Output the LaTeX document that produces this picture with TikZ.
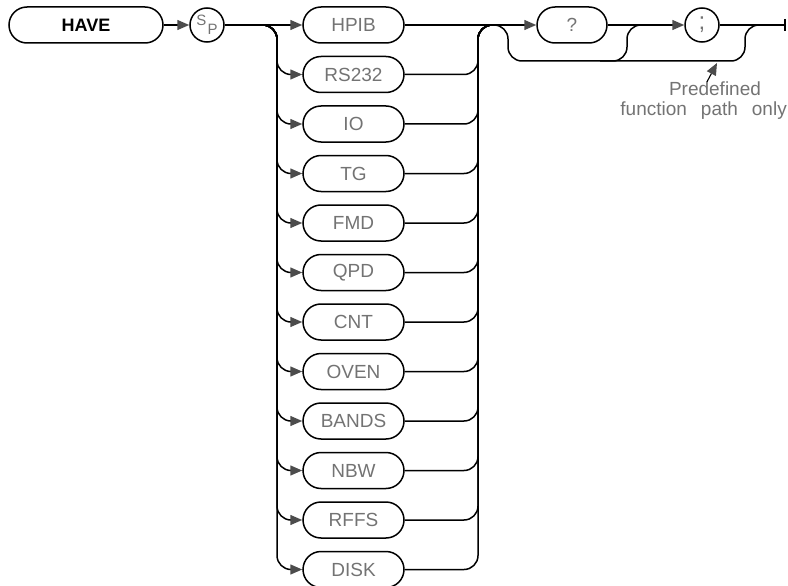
\documentclass[tikz,border=0pt]{standalone}
\usepackage{fontspec}
\setmainfont{Liberation Sans}
\usetikzlibrary{arrows.meta}

\begin{document}
\begin{tikzpicture}[
        x=1pt, y=-1pt,
        every node/.style={font=\fontsize{19}{19}\selectfont, text=black!55},
        linie/.style={draw=black, line width=1.5pt},
        kante/.style={linie, -{Triangle[length=12pt, width=10pt, color=black!70]}},
        befehl/.style={linie, rounded corners=18pt, minimum width=154pt,
                       minimum height=36pt, inner sep=0pt},
        wahl/.style={befehl, minimum width=101pt},
        kreis/.style={linie, circle, minimum size=34pt, inner sep=0pt},
        notiz/.style={inner sep=0pt}
    ]
        \useasboundingbox (0,0) rectangle (788,586);

        \node[befehl, text=black, font=\fontsize{18}{18}\selectfont\bfseries]
            (have) at (86,25) {HAVE};
        \node[kreis, font=\fontsize{15}{15}\selectfont] (sp) at (207,25)
            {\raisebox{4pt}{S}\kern1pt\raisebox{-5pt}{P}};
        \draw[kante] (have) -- (sp);

        % Geraetetypen
        \foreach \name [count=\i] in {HPIB,RS232,IO,TG,FMD,QPD,CNT,OVEN,BANDS,NBW,RFFS,DISK}
            \node[wahl] (o\i) at (353.5,{25+49.5*(\i-1)}) {\name};

        \coordinate (abzweig)   at (262,25);
        \coordinate (linksbus)  at (277,25);
        \coordinate (rechtsbus) at (478,25);
        \coordinate (zusammen)  at (492,25);

        \draw[kante] (sp) -- (o1);
        \foreach \i in {2,...,12}
            \draw[kante, rounded corners=14pt] (abzweig) -- (linksbus) |- (o\i.west);
        \foreach \i in {2,...,12}
            \draw[linie, rounded corners=14pt] (o\i.east) -| (rechtsbus) -- (zusammen);

        \node[befehl, minimum width=70pt] (frage) at (572,25) {?};
        \node[kreis, font=\fontsize{24}{24}\selectfont] (semi) at (702,25) {;};
        \coordinate (ende) at (786,25);

        \draw[kante] (o1) -- (frage);
        \draw[kante] (frage) -- (semi);
        \draw[linie, -{Bar[width=12pt, line width=1.8pt]}] (semi) -- (ende);

        % Umgehung
        \coordinate (umweg1)    at (508,61);
        \coordinate (umweg2)    at (745,61);
        \coordinate (rueck)     at (760,25);
        \coordinate (fragunten) at (600,61);
        \coordinate (fragoben)  at (643,25);
        \draw[linie, rounded corners=14pt] (zusammen) -| (umweg1) -- (umweg2) |- (rueck);
        \draw[linie, rounded corners=14pt] (fragunten) -| (627,25) -- (fragoben);

        \coordinate (hinweis) at (717,63);
        \node[notiz] (praedef) at (715,89) {Predefined};
        \node[notiz, anchor=east] (pfad) at (787,111)
            {function\hspace{14pt}path\hspace{14pt}only};
        \draw[kante, line width=1.1pt] ([xshift=-8pt]praedef.north) -- (hinweis);
    \end{tikzpicture}
\end{document}
